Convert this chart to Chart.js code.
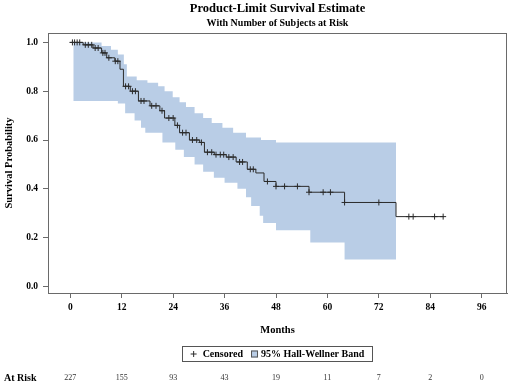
<!DOCTYPE html>
<html>
<head>
<meta charset="utf-8">
<script src="https://cdn.jsdelivr.net/npm/chart.js@4/dist/chart.umd.min.js"></script>
<style>
  html, body { margin: 0; padding: 0; background: #fff; }
  #wrap { width: 512px; height: 386px; position: relative; }
</style>
</head>
<body>
<div id="wrap"><canvas id="km"></canvas></div>
<script>
/* ---- data ---- */
const kmMonths = [0, 3, 5.3, 7.3, 8.5, 10.4, 11.6, 12.4, 14, 15.9, 18.6, 20.9, 22, 24.4, 25.5, 27.8, 30.2, 31.3, 33.6, 36.4, 38.7, 41.3, 43.3, 45.2, 48, 55.7, 64, 76, 87.2];
const kmSurv   = [1.0, 0.99, 0.977, 0.957, 0.937, 0.923, 0.89, 0.82, 0.80, 0.76, 0.74, 0.72, 0.69, 0.66, 0.63, 0.60, 0.59, 0.55, 0.54, 0.53, 0.51, 0.48, 0.465, 0.43, 0.41, 0.386, 0.344, 0.286, 0.286];

const censorMonths = [0.5, 1, 1.6, 2.2, 3.5, 4.2, 5, 5.8, 6.5, 7.6, 8.1, 9, 10.5, 11.1, 12.9, 13.6, 14.5, 15.2, 16.5, 17.2, 19, 20, 21.4, 23, 24, 25, 26.2, 27, 28.5, 29.5, 30.6, 32, 33, 34, 35, 35.8, 37, 38, 39.5, 40.2, 42, 42.7, 46, 48, 50, 53, 55.7, 59, 60.7, 64, 72, 79, 80, 85, 87];

const bandMonths = [0.7, 7.3, 9.5, 11.1, 12.5, 12.8, 13.2, 15, 15.5, 16.5, 17.5, 18, 20.5, 21.5, 22, 23.9, 24.5, 25.5, 26.5, 27, 29, 31, 33, 33.5, 35.5, 36, 38, 39, 41, 42.2, 44.2, 44.5, 45, 48, 56, 64, 76];
const bandUpper  = [1.0, 0.985, 0.97, 0.95, 0.91, 0.91, 0.86, 0.86, 0.845, 0.845, 0.845, 0.835, 0.82, 0.82, 0.80, 0.775, 0.775, 0.755, 0.755, 0.735, 0.71, 0.69, 0.67, 0.67, 0.65, 0.65, 0.63, 0.63, 0.61, 0.61, 0.61, 0.60, 0.60, 0.59, 0.59, 0.59, 0.585];
const bandLower  = [0.76, 0.76, 0.76, 0.75, 0.75, 0.71, 0.71, 0.68, 0.68, 0.65, 0.63, 0.63, 0.63, 0.59, 0.59, 0.59, 0.56, 0.56, 0.53, 0.53, 0.50, 0.47, 0.47, 0.445, 0.445, 0.425, 0.425, 0.40, 0.365, 0.33, 0.29, 0.29, 0.26, 0.23, 0.18, 0.11, 0.11];

const xTicks = [0, 12, 24, 36, 48, 60, 72, 84, 96];
const yTicks = [0, 0.2, 0.4, 0.6, 0.8, 1.0];
const yTickLabels = ['0.0', '0.2', '0.4', '0.6', '0.8', '1.0'];
const atRiskCounts = [227, 155, 93, 43, 19, 11, 7, 2, 0];

const titleText = 'Product-Limit Survival Estimate';
const subtitleText = 'With Number of Subjects at Risk';
const xTitle = 'Months';
const yTitle = 'Survival Probability';
const legendCensored = 'Censored';
const legendBand = '95% Hall-Wellner Band';
const atRiskLabel = 'At Risk';

/* ---- style ---- */
const SERIF = "'Liberation Serif', 'Times New Roman', serif";
const BAND = '#B9CDE6';
const LINE = '#2b2b2b';
const AXIS = '#6a6a6a';

// survival value at a censor time = last step at or before it
function survAt(t) {
    let v = kmSurv[0];
    for (let i = 0; i < kmMonths.length; i++) {
        if (kmMonths[i] <= t) v = kmSurv[i];
    }
    return v;
}

const pts = (xs, ys) => xs.map((x, i) => ({ x, y: ys[i] }));

const decorations = {
    id: 'decorations',
    afterDraw(chart) {
        const { ctx, chartArea: a, scales } = chart;
        ctx.save();

        // frame
        ctx.strokeStyle = AXIS;
        ctx.lineWidth = 1;
        ctx.strokeRect(Math.round(a.left) + 0.5, Math.round(a.top) + 0.5,
            Math.round(a.right - a.left) - 1, Math.round(a.bottom - a.top));

        ctx.fillStyle = '#000';
        ctx.textAlign = 'center';
        ctx.textBaseline = 'middle';
        const cx = (a.left + a.right) / 2;

        // titles
        ctx.font = `bold 12.5px ${SERIF}`;
        ctx.fillText(titleText, cx, 9);
        ctx.font = `bold 10px ${SERIF}`;
        ctx.fillText(subtitleText, cx, 23);

        // axis titles
        ctx.font = `bold 10.5px ${SERIF}`;
        ctx.fillText(xTitle, cx, 330);
        ctx.save();
        ctx.translate(9, (a.top + a.bottom) / 2);
        ctx.rotate(-Math.PI / 2);
        ctx.fillText(yTitle, 0, 0);
        ctx.restore();

        // legend
        ctx.font = `bold 10px ${SERIF}`;
        const plusW = 8, gap = 8, boxS = 7;
        const w1 = ctx.measureText(legendCensored).width;
        const w2 = ctx.measureText(legendBand).width;
        const innerW = plusW + 4 + w1 + gap + boxS + 3 + w2;
        const lx = cx - innerW / 2, ly = 354;
        ctx.strokeStyle = '#555';
        ctx.strokeRect(Math.round(lx - 9) + 0.5, ly - 7.5, Math.round(innerW + 16), 15);
        // plus marker
        ctx.strokeStyle = LINE;
        ctx.beginPath();
        ctx.moveTo(lx, ly); ctx.lineTo(lx + 6, ly);
        ctx.moveTo(lx + 3, ly - 3); ctx.lineTo(lx + 3, ly + 3);
        ctx.stroke();
        ctx.textAlign = 'left';
        ctx.fillText(legendCensored, lx + plusW + 4, ly);
        const bx = lx + plusW + 4 + w1 + gap;
        ctx.fillStyle = BAND;
        ctx.fillRect(bx, ly - boxS / 2, boxS, boxS);
        ctx.strokeStyle = '#555';
        ctx.strokeRect(bx + 0.5, ly - boxS / 2 + 0.5, boxS - 1, boxS - 1);
        ctx.fillStyle = '#000';
        ctx.fillText(legendBand, bx + boxS + 3, ly);

        // at-risk row
        ctx.font = `bold 10px ${SERIF}`;
        ctx.fillText(atRiskLabel, 4, 378);
        ctx.textAlign = 'center';
        ctx.font = `8px ${SERIF}`;
        ctx.fillStyle = '#333';
        xTicks.forEach((m, i) => {
            ctx.fillText(String(atRiskCounts[i]), scales.x.getPixelForValue(m), 378);
        });

        ctx.restore();
    }
};

new Chart(document.getElementById('km'), {
    type: 'line',
    data: {
        datasets: [
            {
                label: 'upper',
                data: pts(bandMonths, bandUpper),
                stepped: 'before',
                borderWidth: 0,
                pointRadius: 0,
                backgroundColor: BAND,
                fill: '+1',
                order: 3,
            },
            {
                label: 'lower',
                data: pts(bandMonths, bandLower),
                stepped: 'before',
                borderWidth: 0,
                pointRadius: 0,
                fill: false,
                order: 2,
            },
            {
                label: 'Survival',
                data: pts(kmMonths, kmSurv),
                stepped: 'before',
                borderColor: LINE,
                borderWidth: 1,
                pointRadius: 0,
                fill: false,
                order: 1,
            },
            {
                label: legendCensored,
                data: censorMonths.map(m => ({ x: m, y: survAt(m) })),
                showLine: false,
                pointStyle: 'cross',
                pointRadius: 3,
                borderColor: LINE,
                borderWidth: 1,
                order: 0,
            },
        ],
    },
    options: {
        responsive: true,
        maintainAspectRatio: false,
        animation: false,
        layout: { padding: { top: 33, right: 3, bottom: 68, left: 0 } },
        plugins: {
            legend: { display: false },
            tooltip: { enabled: false },
            title: { display: false },
        },
        scales: {
            x: {
                type: 'linear',
                min: -5.2,
                max: 101.9,
                afterBuildTicks: s => { s.ticks = xTicks.map(v => ({ value: v })); },
                afterFit: s => { s.height = 25; },
                grid: { drawOnChartArea: false, drawTicks: true, tickLength: 5, color: AXIS },
                border: { display: true, color: AXIS },
                ticks: {
                    color: '#000',
                    padding: 4,
                    maxRotation: 0,
                    font: { family: SERIF, size: 9.5, weight: 'bold' },
                    callback: v => String(v),
                },
            },
            y: {
                type: 'linear',
                min: -0.027,
                max: 1.0385,
                afterBuildTicks: s => { s.ticks = yTicks.map(v => ({ value: v })); },
                afterFit: s => { s.width = 48; },
                grid: { drawOnChartArea: false, drawTicks: true, tickLength: 5, color: AXIS },
                border: { display: true, color: AXIS },
                ticks: {
                    color: '#000',
                    padding: 5,
                    font: { family: SERIF, size: 9.5, weight: 'bold' },
                    callback: v => yTickLabels[yTicks.indexOf(v)] ?? '',
                },
            },
        },
    },
    plugins: [decorations],
});
</script>
</body>
</html>
